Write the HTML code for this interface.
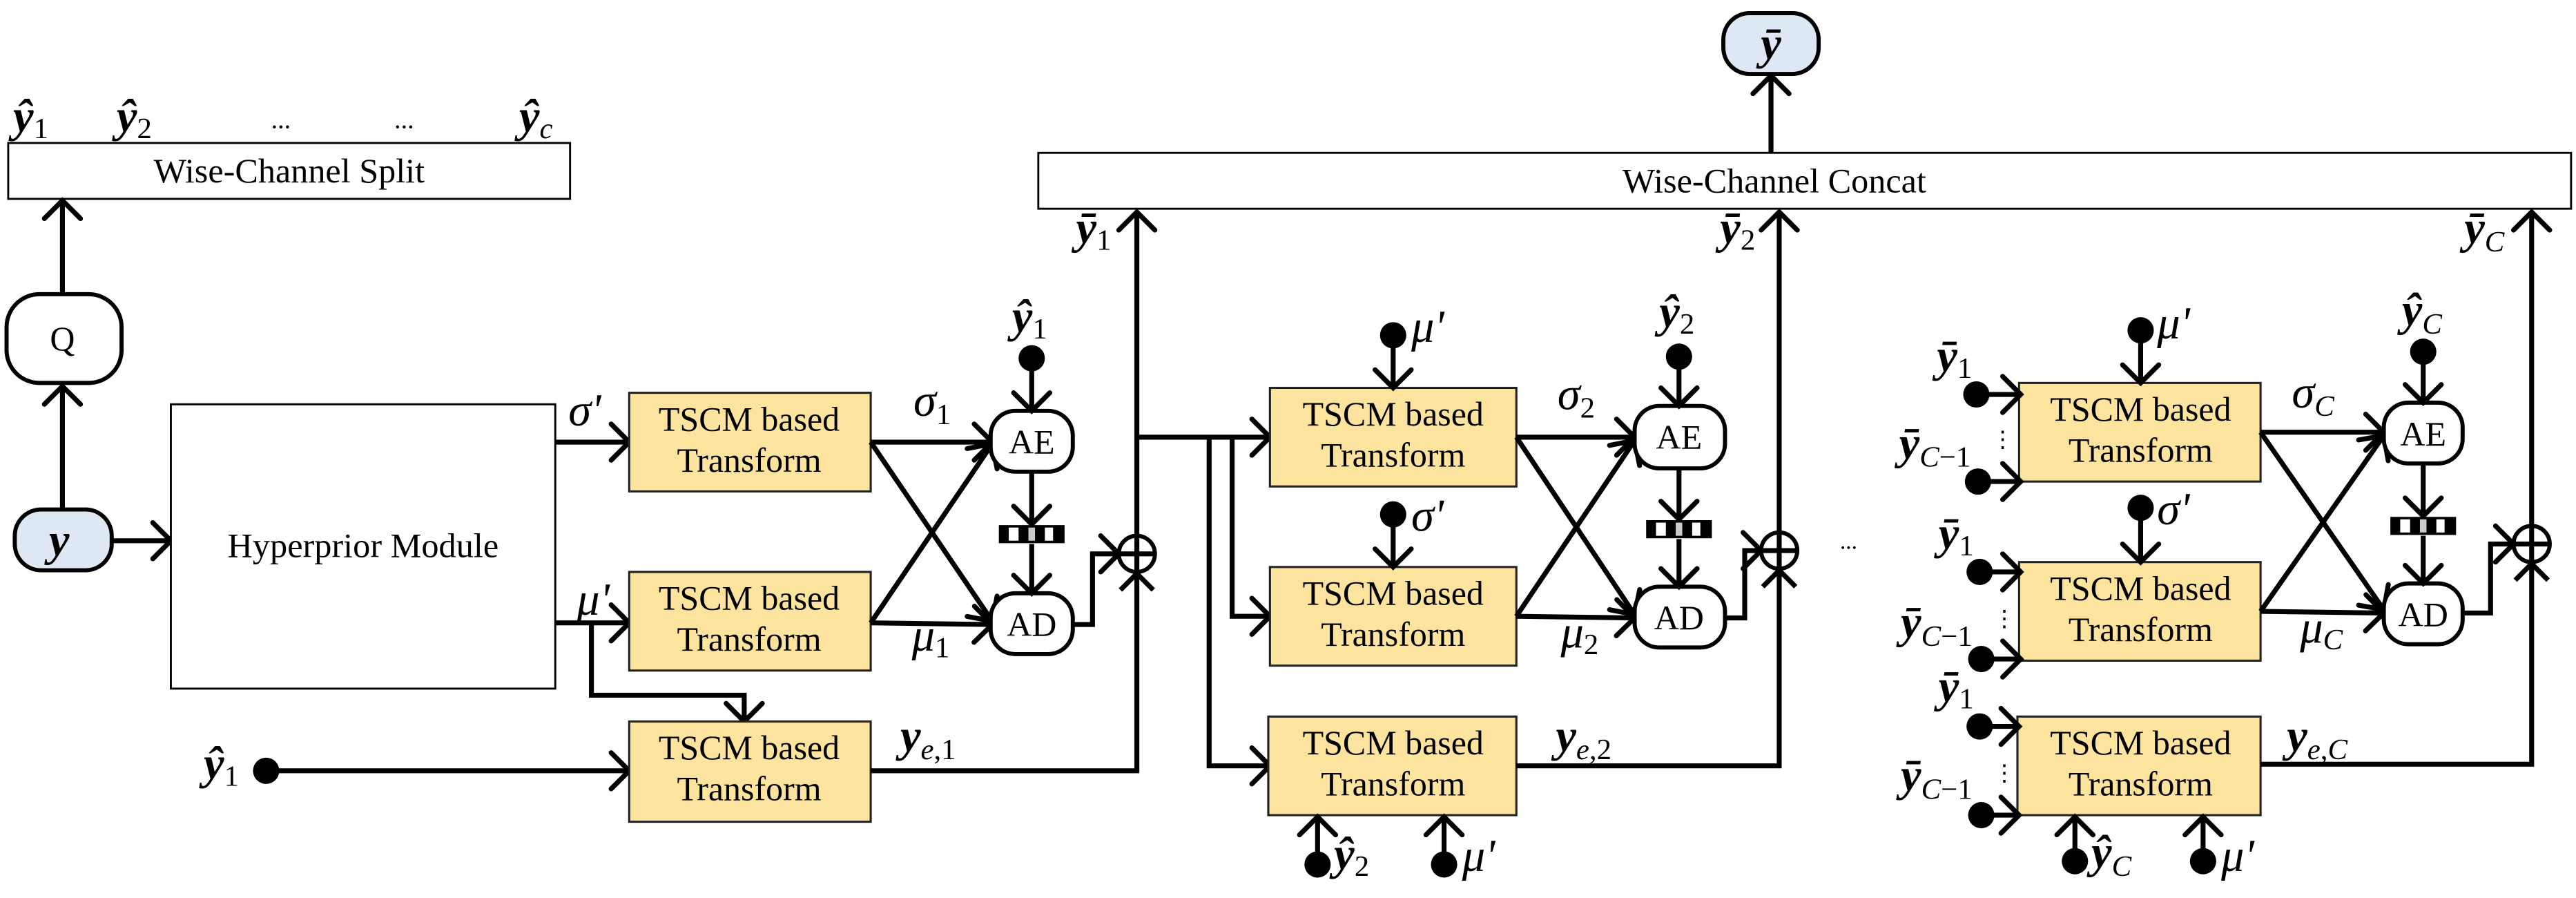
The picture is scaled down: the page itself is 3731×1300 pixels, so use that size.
<!DOCTYPE html>
<html><head><meta charset="utf-8"><style>
html,body{margin:0;padding:0;background:#fff;}
svg{display:block}
svg, svg text, svg tspan{font-family:"Liberation Serif","Times New Roman",serif !important;}
.t{font-size:21px;text-anchor:middle}
.m{font-style:italic;font-weight:bold;font-size:28px}
.g{font-style:italic;font-size:28px}
.s{font-style:normal;font-weight:normal;font-size:18px}
.si{font-style:italic;font-weight:normal;font-size:18px}
.ln{fill:none;stroke:#000;stroke-width:3;marker-end:url(#a)}
.nl{fill:none;stroke:#000;stroke-width:3}
.bx{fill:#fce49f;stroke:#222;stroke-width:1.3}
.nd{fill:#fff;stroke:#000;stroke-width:2.5}
</style></head><body>
<svg width="3731" height="1300" viewBox="0 0 1568 546.4" preserveAspectRatio="none" xmlns="http://www.w3.org/2000/svg" font-family="Liberation Serif, serif">
<defs>
<marker id="a" markerUnits="userSpaceOnUse" markerWidth="16" markerHeight="26" refX="12" refY="11" orient="auto" overflow="visible">
<path d="M1,0 L12,11 L1,22" fill="none" stroke="#000" stroke-width="3" stroke-linecap="round"/>
</marker>
<g id="st"><rect x="-20" y="-5.5" width="40" height="11" fill="#000"/><rect x="-14" y="-4" width="6" height="8" fill="#fff"/><rect x="-2" y="-4" width="4" height="8" fill="#ccc"/><rect x="8" y="-4" width="5" height="8" fill="#fff"/></g>
</defs>
<g font-family="Liberation Serif, serif">
<!-- Split -->
<rect x="5" y="87" width="342" height="34" fill="#fff" stroke="#000" stroke-width="1.2"/>
<text x="176" y="111" class="t" font-size="19" textLength="165" lengthAdjust="spacingAndGlyphs">Wise-Channel Split</text>
<text x="8" y="80" class="m">ŷ<tspan class="s" dy="4">1</tspan></text>
<text x="71" y="80" class="m">ŷ<tspan class="s" dy="4">2</tspan></text>
<text x="165" y="78" font-size="16">...</text>
<text x="240" y="78" font-size="16">...</text>
<text x="316" y="80" class="m">ŷ<tspan class="si" dy="4">c</tspan></text>

<!-- Q and y -->
<rect x="4" y="179" width="70" height="54" rx="20" class="nd"/>
<text x="38" y="213" class="t" font-size="19">Q</text>
<rect x="9" y="310" width="59" height="37" rx="16" fill="#dde8f4" stroke="#000" stroke-width="2.5"/>
<text x="36" y="338" class="m" text-anchor="middle">y</text>
<path d="M38,310 L38,235" class="ln"/>
<path d="M38,179 L38,122" class="ln"/>
<path d="M68,329 L104,329" class="ln"/>

<!-- Hyperprior -->
<rect x="104" y="246" width="234" height="173" fill="#fff" stroke="#000" stroke-width="1.2"/>
<text x="221" y="339" class="t" font-size="19" textLength="165" lengthAdjust="spacingAndGlyphs">Hyperprior Module</text>

<!-- Column 1 -->
<path d="M338,269 L383,269" class="ln"/>
<text x="346" y="259" class="g">σ'</text>
<path d="M338,379 L383,379" class="ln"/>
<text x="351" y="374" class="g">μ'</text>
<path d="M360,379 L360,423 L453,423 L453,439" class="ln"/>
<circle cx="162" cy="469" r="8"/>
<text x="124" y="474" class="m">ŷ<tspan class="s" dy="4">1</tspan></text>
<path d="M162,469 L383,469" class="ln"/>

<rect x="383" y="239" width="147" height="60" class="bx"/>
<text x="456" y="262" class="t">TSCM based</text><text x="456" y="287" class="t">Transform</text>
<rect x="383" y="348" width="147" height="60" class="bx"/>
<text x="456" y="371" class="t">TSCM based</text><text x="456" y="396" class="t">Transform</text>
<rect x="383" y="439" width="147" height="61" class="bx"/>
<text x="456" y="462" class="t">TSCM based</text><text x="456" y="487" class="t">Transform</text>

<path d="M530,269 L604,269" class="ln"/>
<path d="M530,379 L604,380" class="ln"/>
<path d="M530,269 L604,378" class="ln"/>
<path d="M530,379 L604,270" class="ln"/>
<text x="556" y="253" class="g">σ<tspan class="s" dy="5">1</tspan></text>
<text x="555" y="396" class="g" font-size="22">μ<tspan class="s" dy="4">1</tspan></text>

<rect x="603" y="250" width="50" height="37" rx="15" class="nd"/>
<text x="628" y="276" class="t">AE</text>
<rect x="603" y="361" width="50" height="37" rx="15" class="nd"/>
<text x="628" y="387" class="t">AD</text>
<circle cx="628" cy="218" r="8"/>
<text x="616" y="202" class="m">ŷ<tspan class="s" dy="4">1</tspan></text>
<path d="M628,218 L628,250" class="ln"/>
<path d="M628,287 L628,319" class="ln"/>
<use href="#st" x="628" y="325"/>
<path d="M628,331 L628,361" class="ln"/>
<path d="M653,380 L665,380 L665,337 L681,337" class="ln"/>
<circle cx="692" cy="337" r="11" fill="none" stroke="#000" stroke-width="2.5"/>
<path d="M681,337 L703,337" class="nl"/>
<path d="M530,469 L692,469 L692,129" class="ln"/>
<path d="M682,359 L692,349 L702,359" class="nl"/>
<text x="655" y="148" class="m">ȳ<tspan class="s" dy="4">1</tspan></text>

<!-- Concat -->
<rect x="632" y="93" width="933" height="34" fill="#fff" stroke="#000" stroke-width="1.2"/>
<text x="1080" y="117" class="t" font-size="19" textLength="185" lengthAdjust="spacingAndGlyphs">Wise-Channel Concat</text>
<path d="M1078,93 L1078,46" class="ln"/>
<rect x="1049" y="8" width="58" height="37" rx="16" fill="#dde8f4" stroke="#000" stroke-width="2.5"/>
<text x="1078" y="36" class="m" text-anchor="middle">ȳ</text>

<!-- Column 2 -->
<path d="M692,266 L773,266" class="ln"/>
<path d="M736,266 L736,466 L773,466" class="ln"/>
<path d="M750,266 L750,375 L773,375" class="ln"/>
<rect x="773" y="236" width="150" height="60" class="bx"/>
<text x="848" y="259" class="t">TSCM based</text><text x="848" y="284" class="t">Transform</text>
<rect x="773" y="345" width="150" height="60" class="bx"/>
<text x="848" y="368" class="t">TSCM based</text><text x="848" y="393" class="t">Transform</text>
<rect x="772" y="436" width="151" height="60" class="bx"/>
<text x="848" y="459" class="t">TSCM based</text><text x="848" y="484" class="t">Transform</text>
<circle cx="848" cy="204" r="8"/><path d="M848,204 L848,236" class="ln"/>
<text x="859" y="208" class="g">μ'</text>
<circle cx="848" cy="313" r="8"/><path d="M848,313 L848,345" class="ln"/>
<text x="859" y="323" class="g">σ'</text>
<circle cx="802" cy="526" r="8"/><path d="M802,526 L802,497" class="ln"/>
<text x="812" y="529" class="m">ŷ<tspan class="s" dy="4">2</tspan></text>
<circle cx="879" cy="526" r="8"/><path d="M879,526 L879,497" class="ln"/>
<text x="890" y="530" class="g">μ'</text>

<path d="M923,266 L995,266" class="ln"/>
<path d="M923,375 L995,376" class="ln"/>
<path d="M923,266 L995,374" class="ln"/>
<path d="M923,375 L995,268" class="ln"/>
<text x="948" y="249" class="g">σ<tspan class="s" dy="5">2</tspan></text>
<text x="950" y="394" class="g" font-size="22">μ<tspan class="s" dy="4">2</tspan></text>
<rect x="995" y="247" width="55" height="38" rx="15" class="nd"/>
<text x="1022" y="273" class="t">AE</text>
<rect x="995" y="357" width="55" height="37" rx="15" class="nd"/>
<text x="1022" y="383" class="t">AD</text>
<circle cx="1022" cy="217" r="8"/>
<text x="1010" y="199" class="m">ŷ<tspan class="s" dy="4">2</tspan></text>
<path d="M1022,217 L1022,247" class="ln"/>
<path d="M1022,285 L1022,316" class="ln"/>
<use href="#st" x="1022" y="322"/>
<path d="M1022,328 L1022,357" class="ln"/>
<path d="M1050,376 L1062,376 L1062,335 L1072,335" class="ln"/>
<circle cx="1083" cy="335" r="11" fill="none" stroke="#000" stroke-width="2.5"/>
<path d="M1072,335 L1094,335" class="nl"/>
<path d="M923,466 L1083,466 L1083,129" class="ln"/>
<path d="M1073,357 L1083,347 L1093,357" class="nl"/>
<text x="1047" y="148" class="m">ȳ<tspan class="s" dy="4">2</tspan></text>
<text x="947" y="457" class="m">y<tspan class="si" dy="5">e</tspan><tspan class="s">,2</tspan></text>
<text x="548" y="457" class="m">y<tspan class="si" dy="5">e</tspan><tspan class="s">,1</tspan></text>
<text x="1120" y="334" font-size="14">...</text>

<!-- Column 3 -->
<rect x="1229" y="233" width="147" height="60" class="bx"/>
<text x="1303" y="256" class="t">TSCM based</text><text x="1303" y="281" class="t">Transform</text>
<rect x="1229" y="342" width="147" height="60" class="bx"/>
<text x="1303" y="365" class="t">TSCM based</text><text x="1303" y="390" class="t">Transform</text>
<rect x="1228" y="436" width="148" height="60" class="bx"/>
<text x="1303" y="459" class="t">TSCM based</text><text x="1303" y="484" class="t">Transform</text>

<circle cx="1203" cy="240" r="8"/><path d="M1203,240 L1230,240" class="ln"/>
<circle cx="1204" cy="293" r="8"/><path d="M1204,293 L1230,293" class="ln"/>
<circle cx="1205" cy="348" r="8"/><path d="M1205,348 L1230,348" class="ln"/>
<circle cx="1206" cy="401" r="8"/><path d="M1206,401 L1230,401" class="ln"/>
<circle cx="1205" cy="442" r="8"/><path d="M1205,442 L1229,442" class="ln"/>
<circle cx="1206" cy="496" r="8"/><path d="M1206,496 L1229,496" class="ln"/>
<text x="1179" y="226" class="m">ȳ<tspan class="s" dy="4">1</tspan></text>
<text x="1156" y="279" class="m">ȳ<tspan class="si" dy="5">C</tspan><tspan class="s">−1</tspan></text>
<text x="1212" y="272" font-size="14">⋮</text>
<text x="1180" y="334" class="m">ȳ<tspan class="s" dy="4">1</tspan></text>
<text x="1157" y="388" class="m">ȳ<tspan class="si" dy="5">C</tspan><tspan class="s">−1</tspan></text>
<text x="1213" y="381" font-size="14">⋮</text>
<text x="1180" y="427" class="m">ȳ<tspan class="s" dy="4">1</tspan></text>
<text x="1157" y="481" class="m">ȳ<tspan class="si" dy="5">C</tspan><tspan class="s">−1</tspan></text>
<text x="1213" y="475" font-size="14">⋮</text>

<circle cx="1303" cy="201" r="8"/><path d="M1303,201 L1303,233" class="ln"/>
<text x="1313" y="206" class="g">μ'</text>
<circle cx="1303" cy="309" r="8"/><path d="M1303,309 L1303,342" class="ln"/>
<text x="1313" y="319" class="g">σ'</text>
<circle cx="1263" cy="524" r="8"/><path d="M1263,524 L1263,497" class="ln"/>
<text x="1273" y="528" class="m">ŷ<tspan class="si" dy="5">C</tspan></text>
<circle cx="1341" cy="524" r="8"/><path d="M1341,524 L1341,497" class="ln"/>
<text x="1352" y="530" class="g">μ'</text>

<path d="M1376,263 L1451,263" class="ln"/>
<path d="M1376,372 L1451,373" class="ln"/>
<path d="M1376,263 L1451,371" class="ln"/>
<path d="M1376,372 L1451,265" class="ln"/>
<text x="1395" y="248" class="g">σ<tspan class="si" dy="5">C</tspan></text>
<text x="1400" y="391" class="g" font-size="22">μ<tspan class="si" dy="4">C</tspan></text>
<rect x="1451" y="245" width="48" height="37" rx="15" class="nd"/>
<text x="1475" y="271" class="t">AE</text>
<rect x="1451" y="355" width="48" height="37" rx="15" class="nd"/>
<text x="1475" y="381" class="t">AD</text>
<circle cx="1475" cy="214" r="8"/>
<text x="1462" y="198" class="m">ŷ<tspan class="si" dy="5">C</tspan></text>
<path d="M1475,214 L1475,245" class="ln"/>
<path d="M1475,282 L1475,314" class="ln"/>
<use href="#st" x="1475" y="320"/>
<path d="M1475,326 L1475,355" class="ln"/>
<path d="M1499,373 L1516,373 L1516,331 L1530,331" class="ln"/>
<circle cx="1541" cy="331" r="11" fill="none" stroke="#000" stroke-width="2.5"/>
<path d="M1530,331 L1552,331" class="nl"/>
<path d="M1376,465 L1541,465 L1541,129" class="ln"/>
<path d="M1531,353 L1541,343 L1551,353" class="nl"/>
<text x="1500" y="148" class="m">ȳ<tspan class="si" dy="5">C</tspan></text>
<text x="1392" y="457" class="m">y<tspan class="si" dy="5">e</tspan><tspan class="s">,</tspan><tspan class="si">C</tspan></text>
</g>
</svg>
</body></html>
